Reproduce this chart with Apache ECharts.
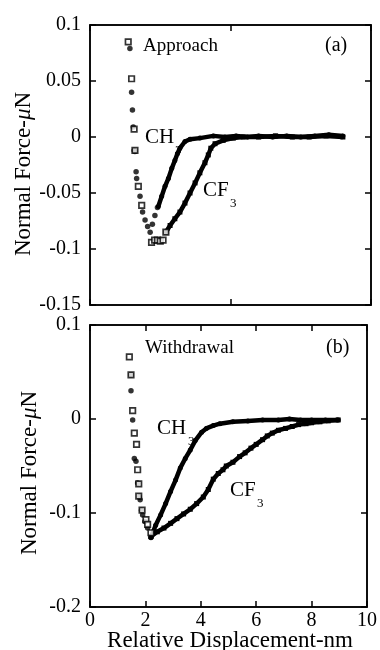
<!DOCTYPE html>
<html>
<head>
<meta charset="utf-8">
<script src="https://cdn.jsdelivr.net/npm/echarts@6/dist/echarts.min.js"></script>
<style>
  html, body { margin: 0; padding: 0; background: #fff; }
  #chart { width: 380px; height: 650px; }
</style>
</head>
<body>
<div id="chart"></div>
<script>
// (a) Approach: x = relative displacement (nm), y = normal force (uN)
var approachCH3Dots = [
  [1.42, 0.079], [1.48, 0.040], [1.51, 0.024], [1.54, 0.009], [1.57, -0.012],
  [1.60, -0.013], [1.64, -0.031], [1.66, -0.037], [1.78, -0.053], [1.87, -0.067],
  [1.96, -0.074], [2.05, -0.080], [2.14, -0.085], [2.22, -0.078], [2.31, -0.070],
  [2.40, -0.063]
]
var approachCF3Dots = [
  [1.36, 0.085], [1.48, 0.052], [1.57, 0.007], [1.60, -0.012], [1.72, -0.044],
  [1.84, -0.061], [2.19, -0.094], [2.30, -0.092], [2.40, -0.092], [2.50, -0.093],
  [2.60, -0.092], [2.70, -0.085]
]
var approachCH3Chain = [
  [2.43, -0.062], [2.55, -0.053],
  [2.67, -0.044], [2.79, -0.037], [2.91, -0.028], [3.02, -0.021], [3.11, -0.015],
  [3.20, -0.010], [3.38, -0.004], [3.56, -0.002], [3.91, -0.001], [4.39, 0.001],
  [4.80, 0.000], [5.20, 0.001], [5.60, 0.000], [6.00, 0.001], [6.50, 0.000],
  [7.00, 0.001], [7.50, 0.000], [8.00, 0.001], [8.50, 0.002], [9.00, 0.001]
]
var approachCF3Chain = [
  [2.70, -0.085], [2.85, -0.079], [3.02, -0.073], [3.20, -0.067], [3.38, -0.059],
  [3.56, -0.050], [3.74, -0.041], [3.91, -0.032], [4.09, -0.023], [4.21, -0.016],
  [4.30, -0.010], [4.45, -0.006], [4.74, -0.003], [5.10, -0.001], [5.45, 0.000],
  [6.00, 0.000], [6.60, 0.001], [7.20, 0.000], [7.80, 0.000], [8.40, 0.001],
  [9.00, 0.000]
]

// (b) Withdrawal
var withdrawalCH3Dots = [
  [1.48, 0.047], [1.48, 0.030], [1.54, -0.001], [1.60, -0.042], [1.66, -0.045],
  [1.72, -0.068], [1.78, -0.083], [1.81, -0.086], [1.86, -0.097], [1.90, -0.102],
  [1.98, -0.109], [2.08, -0.116], [2.20, -0.126]
]
var withdrawalCF3Dots = [
  [1.42, 0.066], [1.48, 0.047], [1.54, 0.009], [1.60, -0.015], [1.68, -0.027],
  [1.72, -0.054], [1.76, -0.069], [1.76, -0.082], [1.88, -0.097], [2.02, -0.107],
  [2.08, -0.112], [2.20, -0.121]
]
var withdrawalCH3Chain = [
  [2.20, -0.126], [2.37, -0.113], [2.55, -0.102], [2.73, -0.090], [2.91, -0.077],
  [3.09, -0.065], [3.26, -0.052], [3.44, -0.042], [3.62, -0.033], [3.80, -0.023],
  [4.03, -0.014], [4.20, -0.010], [4.45, -0.007], [4.69, -0.005], [5.16, -0.003],
  [5.70, -0.002], [6.23, -0.001], [6.80, -0.001], [7.20, 0.000], [7.60, -0.001],
  [8.00, -0.001], [8.50, -0.001], [8.96, -0.001]
]
var withdrawalCF3Chain = [
  [2.20, -0.125], [2.43, -0.120], [2.67, -0.116], [2.91, -0.111], [3.14, -0.106],
  [3.38, -0.101], [3.62, -0.096], [3.85, -0.090], [4.09, -0.083], [4.27, -0.075],
  [4.45, -0.064], [4.63, -0.058], [4.80, -0.054], [4.92, -0.050], [5.16, -0.046],
  [5.40, -0.040], [5.60, -0.036], [5.81, -0.031], [6.00, -0.027], [6.23, -0.022],
  [6.40, -0.018], [6.58, -0.015], [6.80, -0.012], [7.06, -0.010], [7.30, -0.008],
  [7.53, -0.006], [7.80, -0.005], [8.00, -0.004], [8.30, -0.003], [8.60, -0.002],
  [8.96, -0.001]
]

var serif = '"Liberation Serif", "DejaVu Serif", serif'

function frameX(grid, pos, step, labels) {
  return {
    type: 'value', gridIndex: grid, position: pos, min: 0, max: 10, interval: step,
    axisLine: { show: true, onZero: false, lineStyle: { color: '#000', width: 1.5 } },
    axisTick: { show: true, inside: true, length: 6, lineStyle: { color: '#000', width: 1.5 } },
    axisLabel: { show: labels, fontFamily: serif, fontSize: 20, color: '#000', margin: 4 },
    splitLine: { show: false }
  }
}
function frameY(grid, pos, min, max, step, labels) {
  return {
    type: 'value', gridIndex: grid, position: pos, min: min, max: max, interval: step,
    axisLine: { show: true, onZero: false, lineStyle: { color: '#000', width: 1.5 } },
    axisTick: { show: true, inside: true, length: 6, lineStyle: { color: '#000', width: 1.5 } },
    axisLabel: { show: labels, fontFamily: serif, fontSize: 20, color: '#000', margin: 9 },
    splitLine: { show: false }
  }
}

// sparse markers of the steep repulsive branch
function dots(data, xi, yi, sym) {
  var open = sym === 'rect'
  return {
    type: 'scatter', xAxisIndex: xi, yAxisIndex: yi, data: data,
    symbol: sym, symbolSize: open ? 5.5 : 5.5, z: open ? 4 : 3,
    itemStyle: open ? { color: '#fff', borderColor: '#000', borderWidth: 1.7 } : { color: '#000' }
  }
}
// densely packed markers after the pull-off minimum, they merge into a thick trace
function chain(data, xi, yi, sym) {
  return {
    type: 'line', xAxisIndex: xi, yAxisIndex: yi, data: data,
    symbol: sym, symbolSize: 5, showSymbol: true, smooth: false,
    lineStyle: { color: '#000', width: 4.5 },
    itemStyle: { color: '#000' }
  }
}

function label(x, y, txt, size) {
  return {
    type: 'text', x: x, y: y,
    style: { text: txt, font: size + 'px ' + serif, fill: '#000', align: 'left', verticalAlign: 'middle' }
  }
}
function yTitle(x, y) {
  return {
    type: 'text', x: x, y: y, rotation: Math.PI / 2,
    style: {
      text: '{r|Normal Force-}{i|μ}{r|N}', align: 'center', verticalAlign: 'middle',
      rich: {
        r: { fontFamily: serif, fontSize: 23, fill: '#000', color: '#000' },
        i: { fontFamily: serif, fontSize: 23, fontStyle: 'italic', fill: '#000', color: '#000' }
      }
    }
  }
}

var chart = echarts.init(document.getElementById('chart'))
chart.setOption({
  animation: false,
  backgroundColor: '#fff',
  grid: [
    { left: 90, top: 25, width: 281, height: 280, show: true, borderColor: '#000', borderWidth: 1.5, backgroundColor: 'transparent' },
    { left: 90, top: 325, width: 281, height: 282, show: true, borderColor: '#000', borderWidth: 1.5, backgroundColor: 'transparent' }
  ],
  xAxis: [
    frameX(0, 'bottom', 5, false),
    frameX(0, 'top', 5, false),
    frameX(1, 'bottom', 2, true),
    frameX(1, 'top', 2, false)
  ],
  yAxis: [
    frameY(0, 'left', -0.15, 0.1, 0.05, true),
    frameY(0, 'right', -0.15, 0.1, 0.05, false),
    frameY(1, 'left', -0.2, 0.1, 0.1, true),
    frameY(1, 'right', -0.2, 0.1, 0.1, false)
  ],
  series: [
    chain(approachCH3Chain, 0, 0, 'circle'),
    chain(approachCF3Chain, 0, 0, 'rect'),
    dots(approachCH3Dots, 0, 0, 'circle'),
    dots(approachCF3Dots, 0, 0, 'rect'),
    chain(withdrawalCH3Chain, 2, 2, 'circle'),
    chain(withdrawalCF3Chain, 2, 2, 'rect'),
    dots(withdrawalCH3Dots, 2, 2, 'circle'),
    dots(withdrawalCF3Dots, 2, 2, 'rect')
  ],
  graphic: [
    yTitle(24, 174),
    yTitle(30, 473),
    {
      type: 'text', x: 230, y: 641,
      style: { text: 'Relative Displacement-nm', font: '23px ' + serif, fill: '#000', align: 'center', verticalAlign: 'middle' }
    },
    label(143, 46, 'Approach', 19),
    label(325, 46, '(a)', 20),
    label(145, 137, 'CH', 21),
    label(175, 151, '3', 13),
    label(203, 190, 'CF', 21),
    label(230, 204, '3', 13),
    label(145, 348, 'Withdrawal', 19),
    label(326, 348, '(b)', 20),
    label(157, 428, 'CH', 21),
    label(188, 442, '3', 13),
    label(230, 490, 'CF', 21),
    label(257, 504, '3', 13)
  ]
})
</script>
</body>
</html>
